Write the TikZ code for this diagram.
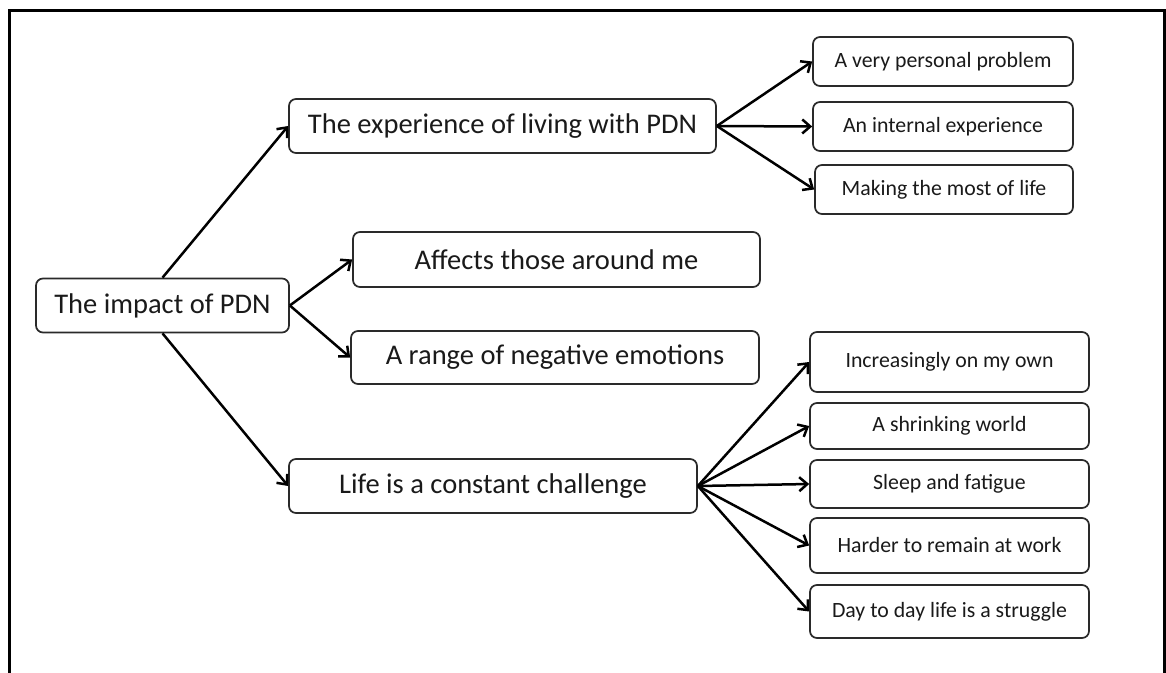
\documentclass[tikz,border=0pt]{standalone}
\usepackage{fontspec}
\setmainfont{Carlito}
\usetikzlibrary{arrows.meta}
\definecolor{boxline}{HTML}{2A2A2A}
\definecolor{ink}{HTML}{1A1A1A}
\begin{document}
\begin{tikzpicture}[x=1pt,y=-1pt,
  theme/.style={draw=boxline, line width=1.7pt, rounded corners=7pt, inner sep=0pt,
    text=ink, font=\fontsize{28.5}{32}\selectfont, minimum height=54pt},
  sub/.style={draw=boxline, line width=1.7pt, rounded corners=7pt, inner sep=0pt,
    text=ink, font=\fontsize{21.8}{25}\selectfont},
  link/.style={line width=2.5pt, -{Straight Barb[length=8pt,width=14pt,line width=2.5pt]}}]
\useasboundingbox (0,0) rectangle (1166,672);
\fill[white] (0,0) rectangle (1166,672);
% outer frame (its lower edge lies below the page)
\draw[line width=2.2pt] (9.5,680) -- (9.5,10.5) -- (1164.5,10.5) -- (1164.5,680);

% central theme and main themes
\node[theme, minimum width=253pt] (root) at (162.5,305.5) {The impact of PDN};
\node[theme, minimum width=427pt] (exp)  at (502.5,126)   {The experience of living with PDN};
\node[theme, minimum width=407pt, minimum height=55pt] (aff) at (556.5,259.5) {Affects those around me};
\node[theme, minimum width=408pt, minimum height=53pt] (rng) at (555,357.5) {A range of negative emotions};
\node[theme, minimum width=408pt] (life) at (493,486) {Life is a constant challenge};

% sub-themes of the experience
\node[sub, minimum width=260pt, minimum height=49pt] (vp) at (943,61.5)  {A very personal problem};
\node[sub, minimum width=260pt, minimum height=49pt] (ie) at (943,126.5) {An internal experience};
\node[sub, minimum width=258pt, minimum height=49pt] (mm) at (944,189.5) {Making the most of life};

% sub-themes of the daily challenge
\node[sub, minimum width=279pt, minimum height=60pt] (inc) at (949.5,362)   {Increasingly on my own};
\node[sub, minimum width=279pt, minimum height=46pt] (shr) at (949.5,426)   {A shrinking world};
\node[sub, minimum width=279pt, minimum height=48pt] (slp) at (949.5,484)   {Sleep and fatigue};
\node[sub, minimum width=279pt, minimum height=55pt] (hrd) at (949.5,545.5) {Harder to remain at work};
\node[sub, minimum width=279pt, minimum height=53pt] (day) at (949.5,611.5) {Day to day life is a struggle};

% connectors
\draw[link] (root.north) -- (exp.west);
\draw[link] (root.east) -- (aff.west);
\draw[link] (root.east) -- (rng.west);
\draw[link] (root.south) -- (life.west);

\draw[link] (exp.east) -- (vp.west);
\draw[link] (exp.east) -- (ie.west);
\draw[link] (exp.east) -- (mm.west);

\draw[link] (life.east) -- (inc.west);
\draw[link] (life.east) -- (shr.west);
\draw[link] (life.east) -- (slp.west);
\draw[link] (life.east) -- (hrd.west);
\draw[link] (life.east) -- (day.west);
\end{tikzpicture}
\end{document}
